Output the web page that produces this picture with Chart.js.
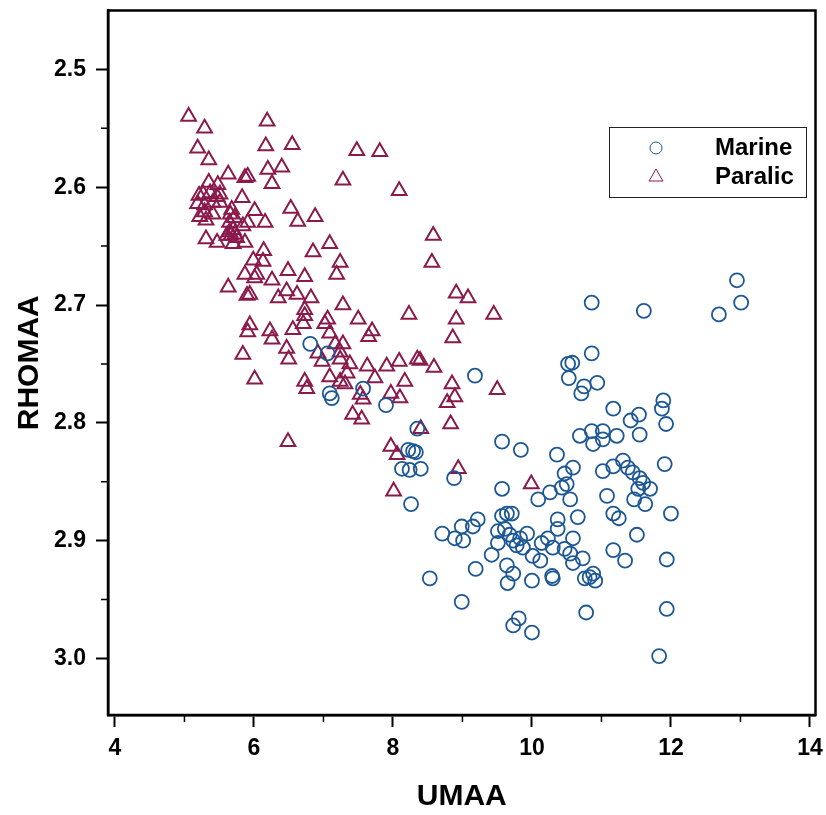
<!DOCTYPE html>
<html>
<head>
<meta charset="utf-8">
<title>RHOMAA vs UMAA</title>
<script src="https://cdn.jsdelivr.net/npm/chart.js@4.4.1/dist/chart.umd.min.js"></script>
<style>
  html, body { margin: 0; padding: 0; background: #fff; }
  #wrap { width: 826px; height: 815px; }
</style>
</head>
<body>
<div id="wrap"><canvas id="rhoChart" width="826" height="815"></canvas></div>
<script>
const seriesNames = ["Marine", "Paralic"];
const xTicks = [4, 6, 8, 10, 12, 14];
const yTicks = [2.5, 2.6, 2.7, 2.8, 2.9, 3.0];
const xMinorTicks = [5, 7, 9, 11, 13];
const yMinorTicks = [2.55, 2.65, 2.75, 2.85, 2.95];

// Marine samples: UMAA and RHOMAA
const marineU = [
  6.81, 7.06, 7.09, 7.12, 7.57, 7.90, 9.18, 8.35, 8.22, 8.29,
  8.33, 8.13, 8.24, 8.40, 8.88, 8.26, 9.57, 9.84, 9.57, 8.71,
  8.53, 8.99, 9.19, 9.42, 8.89, 9.01, 8.99, 9.15, 9.22, 9.57,
  9.64, 9.71, 9.51, 9.61, 9.68, 9.73, 9.83, 9.93, 9.78, 9.87,
  9.51, 9.64, 9.73, 9.65, 10.00, 10.01, 10.12, 10.14, 10.23, 10.30,
  10.37, 10.37, 10.26, 10.09, 10.43, 10.50, 10.47, 10.59, 10.36, 10.55,
  10.66, 10.59, 10.47, 10.55, 10.59, 10.73, 10.29, 10.30, 10.76, 10.83,
  10.91, 10.88, 10.78, 10.00, 9.73, 9.81, 10.69, 10.86, 11.02, 10.88,
  11.02, 11.22, 11.55, 11.42, 11.54, 11.17, 10.71, 10.75, 10.94, 11.89,
  11.87, 11.93, 11.91, 11.02, 11.17, 11.31, 11.38, 11.45, 11.55, 11.60,
  11.53, 11.70, 11.08, 11.47, 11.63, 11.17, 11.25, 11.51, 11.17, 11.34,
  12.00, 11.94, 11.94, 11.83, 12.95, 13.01, 12.69, 10.86, 11.61, 10.86,
  10.52, 10.58, 10.53
];
const marineRho = [
  2.733, 2.741, 2.775, 2.779, 2.771, 2.785, 2.760, 2.805, 2.823, 2.824,
  2.825, 2.839, 2.840, 2.839, 2.847, 2.869, 2.816, 2.823, 2.856, 2.894,
  2.932, 2.952, 2.924, 2.912, 2.898, 2.900, 2.888, 2.888, 2.882, 2.879,
  2.877, 2.877, 2.892, 2.890, 2.895, 2.900, 2.898, 2.894, 2.904, 2.906,
  2.902, 2.921, 2.928, 2.936, 2.934, 2.913, 2.917, 2.902, 2.898, 2.906,
  2.890, 2.882, 2.859, 2.865, 2.855, 2.852, 2.843, 2.838, 2.827, 2.865,
  2.880, 2.898, 2.907, 2.911, 2.919, 2.915, 2.930, 2.932, 2.932, 2.931,
  2.934, 2.928, 2.961, 2.978, 2.972, 2.966, 2.811, 2.807, 2.807, 2.818,
  2.814, 2.811, 2.810, 2.798, 2.793, 2.788, 2.775, 2.769, 2.766, 2.781,
  2.788, 2.801, 2.835, 2.841, 2.837, 2.832, 2.838, 2.842, 2.847, 2.851,
  2.856, 2.856, 2.862, 2.865, 2.869, 2.877, 2.881, 2.895, 2.908, 2.917,
  2.877, 2.916, 2.958, 2.998, 2.679, 2.698, 2.708, 2.698, 2.705, 2.741,
  2.750, 2.749, 2.762
];

// Paralic samples: UMAA and RHOMAA
const paralicU = [
  5.06, 5.29, 5.19, 5.35, 6.19, 6.17, 6.55, 7.48, 7.81, 5.63,
  5.87, 5.91, 6.20, 6.40, 6.26, 5.35, 5.48, 7.28, 8.09, 5.83,
  5.21, 5.27, 5.37, 5.51, 5.47, 5.19, 5.29, 5.41, 5.51, 5.29,
  5.41, 5.31, 5.22, 5.68, 5.65, 5.70, 5.73, 5.65, 5.61, 6.01,
  6.53, 6.63, 6.88, 6.16, 5.91, 5.84, 8.58, 5.31, 5.47, 5.70,
  5.87, 7.09, 6.85, 6.14, 5.99, 6.13, 7.24, 8.56, 5.87, 6.04,
  6.01, 6.49, 6.73, 7.19, 6.26, 5.63, 5.90, 5.94, 6.35, 6.47,
  6.62, 6.82, 7.28, 8.91, 9.08, 6.73, 6.73, 7.50, 7.06, 8.23,
  8.91, 9.45, 5.94, 5.91, 6.23, 6.26, 6.56, 6.71, 7.02, 7.09,
  7.70, 7.65, 8.86, 6.47, 6.50, 5.84, 6.92, 6.98, 7.17, 7.28,
  7.24, 7.24, 7.38, 7.34, 7.09, 7.24, 7.31, 7.53, 7.57, 7.63,
  7.74, 7.91, 8.09, 8.35, 8.39, 8.59, 8.17, 7.97, 8.10, 8.85,
  8.89, 8.78, 9.50, 7.42, 7.55, 8.83, 8.40, 6.01, 6.73, 6.76,
  6.49, 7.97, 8.06, 8.94, 8.01, 9.99, 5.66, 5.72, 5.67, 5.75
];
const paralicRho = [
  2.540, 2.550, 2.567, 2.577, 2.544, 2.565, 2.564, 2.569, 2.570, 2.589,
  2.592, 2.591, 2.585, 2.583, 2.597, 2.596, 2.598, 2.594, 2.603, 2.609,
  2.607, 2.606, 2.605, 2.606, 2.608, 2.614, 2.615, 2.613, 2.613, 2.621,
  2.623, 2.628, 2.625, 2.619, 2.630, 2.636, 2.640, 2.638, 2.641, 2.620,
  2.618, 2.629, 2.625, 2.630, 2.630, 2.633, 2.641, 2.644, 2.647, 2.648,
  2.647, 2.648, 2.655, 2.654, 2.662, 2.663, 2.664, 2.664, 2.674, 2.674,
  2.677, 2.671, 2.676, 2.674, 2.679, 2.685, 2.692, 2.691, 2.694, 2.688,
  2.691, 2.694, 2.700, 2.690, 2.694, 2.704, 2.709, 2.712, 2.712, 2.708,
  2.712, 2.708, 2.717, 2.723, 2.722, 2.729, 2.721, 2.716, 2.716, 2.724,
  2.722, 2.727, 2.728, 2.737, 2.746, 2.742, 2.741, 2.748, 2.733, 2.733,
  2.740, 2.746, 2.750, 2.758, 2.761, 2.765, 2.767, 2.776, 2.780, 2.752,
  2.762, 2.752, 2.748, 2.746, 2.747, 2.753, 2.765, 2.775, 2.779, 2.767,
  2.778, 2.783, 2.772, 2.793, 2.797, 2.801, 2.805, 2.763, 2.765, 2.771,
  2.816, 2.820, 2.827, 2.839, 2.858, 2.852, 2.623, 2.626, 2.641, 2.643
];

const marineColor = "#1d5895";
const paralicColor = "#8a1a4c";
const font = "'Liberation Sans', Arial, sans-serif";

function toPoints(xs, ys) {
  return xs.map((x, i) => ({ x: x, y: ys[i] }));
}

// frame round the plot, minor ticks, and the boxed legend
const framePlugin = {
  id: "frame",
  afterDraw(chart) {
    let ctx = chart.ctx;
    let area = chart.chartArea;
    let xs = chart.scales.x;
    let ys = chart.scales.y;
    ctx.save();
    ctx.strokeStyle = "#000";
    ctx.lineWidth = 2.5;
    ctx.strokeRect(area.left, area.top, area.right - area.left, area.bottom - area.top);

    ctx.lineWidth = 1.5;
    ctx.beginPath();
    xMinorTicks.forEach((v) => {
      let px = xs.getPixelForValue(v);
      ctx.moveTo(px, area.bottom);
      ctx.lineTo(px, area.bottom + 7);
    });
    yMinorTicks.forEach((v) => {
      let py = ys.getPixelForValue(v);
      ctx.moveTo(area.left, py);
      ctx.lineTo(area.left - 7, py);
    });
    ctx.stroke();

    // legend
    ctx.lineWidth = 1;
    ctx.strokeStyle = "#222";
    ctx.strokeRect(609.5, 127.5, 197, 70);
    let rows = [
      { y: 148, color: marineColor, style: "circle", radius: 6 },
      { y: 177, color: paralicColor, style: "triangle", radius: 8 },
    ];
    chart.data.datasets.forEach((ds, i) => {
      let row = rows[i];
      ctx.strokeStyle = row.color;
      ctx.fillStyle = "rgba(0,0,0,0)";
      Chart.helpers.drawPoint(
        ctx,
        { pointStyle: row.style, radius: row.radius, borderWidth: 1.6, rotation: 0 },
        656,
        row.y
      );
      ctx.fillStyle = "#000";
      ctx.font = "bold 24px " + font;
      ctx.textBaseline = "middle";
      ctx.textAlign = "left";
      ctx.fillText(ds.label, 715, row.y);
    });
    ctx.restore();
  },
};

let ctx = document.getElementById("rhoChart").getContext("2d");
new Chart(ctx, {
  type: "scatter",
  data: {
    datasets: [
      {
        label: seriesNames[0],
        data: toPoints(marineU, marineRho),
        pointStyle: "circle",
        pointRadius: 7,
        borderColor: marineColor,
        backgroundColor: "rgba(0,0,0,0)",
        borderWidth: 1.8,
      },
      {
        label: seriesNames[1],
        data: toPoints(paralicU, paralicRho),
        pointStyle: "triangle",
        pointRadius: 8.5,
        borderColor: paralicColor,
        backgroundColor: "rgba(0,0,0,0)",
        borderWidth: 2,
      },
    ],
  },
  options: {
    responsive: false,
    animation: false,
    events: [],
    layout: { padding: { top: 7, right: 10, left: 0, bottom: 0 } },
    plugins: {
      legend: { display: false },
      tooltip: { enabled: false },
    },
    scales: {
      x: {
        type: "linear",
        min: 3.9,
        max: 14.08,
        afterBuildTicks: (scale) => {
          scale.ticks = xTicks.map((v) => ({ value: v }));
        },
        afterFit: (scale) => {
          scale.height = 100;
          scale.paddingLeft = 0;
          scale.paddingRight = 0;
        },
        ticks: {
          color: "#000",
          font: { family: font, size: 23, weight: "bold" },
          padding: 8,
          maxRotation: 0,
        },
        grid: {
          drawOnChartArea: false,
          drawTicks: true,
          tickLength: 12,
          tickWidth: 2,
          tickColor: "#000",
        },
        border: { display: true, color: "#000", width: 2.5 },
        title: {
          display: true,
          text: "UMAA",
          color: "#000",
          font: { family: font, size: 30, weight: "bold" },
          padding: { top: 0, bottom: 0 },
        },
      },
      y: {
        type: "linear",
        reverse: true,
        min: 2.45,
        max: 3.048,
        afterBuildTicks: (scale) => {
          scale.ticks = yTicks.map((v) => ({ value: v }));
        },
        afterFit: (scale) => {
          scale.width = 108;
          scale.paddingTop = 0;
          scale.paddingBottom = 0;
        },
        ticks: {
          color: "#000",
          font: { family: font, size: 23, weight: "bold" },
          padding: 10,
          callback: (v) => Number(v).toFixed(1),
        },
        grid: {
          drawOnChartArea: false,
          drawTicks: true,
          tickLength: 12,
          tickWidth: 2,
          tickColor: "#000",
        },
        border: { display: true, color: "#000", width: 2.5 },
        title: {
          display: true,
          text: "RHOMAA",
          color: "#000",
          font: { family: font, size: 30, weight: "bold" },
          padding: { top: 12, bottom: 0 },
        },
      },
    },
  },
  plugins: [framePlugin],
});
</script>
</body>
</html>
